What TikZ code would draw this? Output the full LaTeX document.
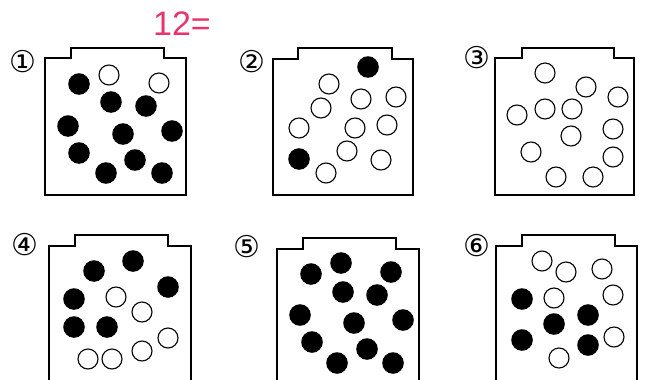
\documentclass[tikz,border=0pt]{standalone}
\usepackage{fontspec}
\newfontfamily\circfont{DejaVu Sans}
\newfontfamily\handfont{Liberation Sans}
\definecolor{handred}{HTML}{E8336D}
\begin{document}
\begin{tikzpicture}[x=1pt,y=-1pt,
  bx/.style={line width=1.4pt,line join=miter},
  wb/.style={draw,line width=1.1pt,fill=white},
  bb/.style={fill=black},
  lab/.style={font=\circfont\fontsize{30}{30}\selectfont,inner sep=0pt}]
\useasboundingbox (0,0) rectangle (645,380);
\clip (0,0) rectangle (645,380);
% red handwritten note
\node[text=handred,font=\handfont\fontsize{34}{34}\selectfont,inner sep=0pt] (note) at (182,24) {12=};
% box 1
\draw[bx] (45,195) -- (45,58) -- (71,58) -- (71,48) -- (164,48) -- (164,58) -- (186,58) -- (186,195) -- cycle;
\node[lab] (l1) at (23,62) {①};
\foreach \x/\y in {79/84,111/102,146/106,68/126,123/134,172/131,79/153,135/160,106/173,162/173}
  \fill[bb] (\x,\y) circle (10.8);
\foreach \x/\y in {109/75,159/83}
  \draw[wb] (\x,\y) circle (10);
% box 2
\draw[bx] (273,195) -- (273,59) -- (298,59) -- (298,48) -- (392,48) -- (392,59) -- (413,59) -- (413,195) -- cycle;
\node[lab] (l2) at (252,62) {②};
\foreach \x/\y in {368/67,299/159}
  \fill[bb] (\x,\y) circle (10.8);
\foreach \x/\y in {329/84,361/99,396/97,321/108,299/128,355/128,387/125,347/151,381/160,326/173}
  \draw[wb] (\x,\y) circle (10);
% box 3
\draw[bx] (495,195) -- (495,58) -- (522,58) -- (522,48) -- (614,48) -- (614,58) -- (634,58) -- (634,195) -- cycle;
\node[lab] (l3) at (477,58) {③};
\foreach \x/\y in {545/73,586/87,618/97,517/115,545/109,572/109,613/129,571/136,531/152,613/157,556/177,593/177}
  \draw[wb] (\x,\y) circle (10);
% box 4
\draw[bx] (49,390) -- (49,246) -- (75,246) -- (75,235) -- (168,235) -- (168,246) -- (191,246) -- (191,390);
\node[lab] (l4) at (25,245) {④};
\foreach \x/\y in {94/271,133/261,168/287,74/299,74/327,107/327}
  \fill[bb] (\x,\y) circle (10.8);
\foreach \x/\y in {116/297,142/312,168/338,88/359,112/359,142/351}
  \draw[wb] (\x,\y) circle (10);
% box 5
\draw[bx] (277,390) -- (277,249) -- (303,249) -- (303,238) -- (396,238) -- (396,249) -- (419,249) -- (419,390);
\node[lab] (l5) at (247,247) {⑤};
\foreach \x/\y in {311/274,341/263,391/272,343/292,377/295,300/315,354/323,403/320,312/342,367/349,337/363,393/363}
  \fill[bb] (\x,\y) circle (10.8);
% box 6
\draw[bx] (496,390) -- (496,246) -- (522,246) -- (522,235) -- (615,235) -- (615,246) -- (637,246) -- (637,390);
\node[lab] (l6) at (477,246) {⑥};
\foreach \x/\y in {522/299,588/315,554/324,522/340,588/345}
  \fill[bb] (\x,\y) circle (10.8);
\foreach \x/\y in {542/261,566/272,602/269,554/298,613/295,614/337,559/358}
  \draw[wb] (\x,\y) circle (10);
\end{tikzpicture}
\end{document}
